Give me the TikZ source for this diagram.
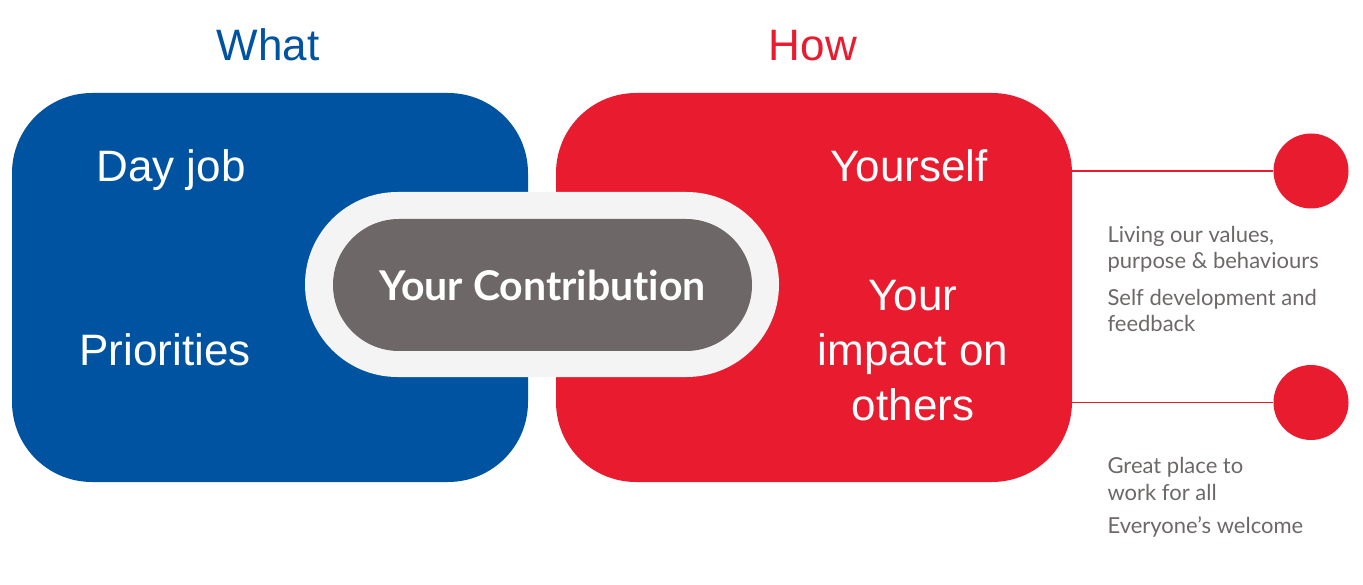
\documentclass[tikz,border=0pt]{standalone}
\usepackage{fontspec}
\setmainfont{Liberation Sans}
\newfontfamily\notefont[Ligatures={NoCommon,NoRare}]{Lato}
\usetikzlibrary{positioning}
\definecolor{whatblue}{HTML}{0053A0}
\definecolor{howred}{HTML}{E81C2E}
\definecolor{ringgray}{HTML}{F4F4F4}
\definecolor{coregray}{HTML}{6D6867}

\begin{document}
\begin{tikzpicture}[x=1pt,y=-1pt,
  head/.style={font=\fontsize{44}{50}\selectfont, anchor=base},
  panel/.style={rectangle, rounded corners=80pt, minimum width=516pt, minimum height=389pt, inner sep=0pt},
  boxtext/.style={font=\fontsize{44}{55}\selectfont, text=white, align=center, anchor=base},
  dot/.style={circle, fill=howred, minimum size=75pt, inner sep=0pt},
  note/.style={font=\notefont\fontsize{22}{26.5}\selectfont, text=coregray, align=left, anchor=base west},
  link/.style={draw=howred, line width=1.6pt}
]
\useasboundingbox (0,0) rectangle (1363,585);

% headings
\node[head, text=whatblue] (whathead) at (268,61) {What};
\node[head, text=howred] (howhead) at (813,61) {How};

% the two panels
\node[panel, fill=whatblue] (what) at (270,287.5) {};
\node[panel, fill=howred] (how) at (814,287.5) {};

% centre pill
\node[rectangle, fill=ringgray, minimum width=474pt, minimum height=185pt, rounded corners=92.5pt, inner sep=0pt] (ring) at (542,284.5) {};
\node[rectangle, fill=coregray, minimum width=419pt, minimum height=132pt, rounded corners=66pt, inner sep=0pt,
  text=white, font=\notefont\bfseries\fontsize{41}{44}\selectfont] (core) at (542.5,285) {Your Contribution};

\node[boxtext] (dayjob) at (171,182) {Day job};
\node[boxtext] (prio) at (165,366) {Priorities};
\node[boxtext] (self) at (909,182) {Yourself};
\node[boxtext] (impact) at (913,420) {Your\\impact on\\others};

% right hand side
\node[dot] (dot1) at (1311,171) {};
\node[dot] (dot2) at (1311,402.5) {};
\draw[link] (how.east |- dot1) -- (dot1.west);
\draw[link] (how.east |- dot2) -- (dot2.west);

\node[note] (values) at (1104,269) {Living our values,\\purpose \& behaviours};
\node[note] (develop) at (1104,332) {Self development and\\feedback};
\node[note] (place) at (1104,500) {Great place to\\work for all};
\node[note] (welcome) at (1104,533) {Everyone’s welcome};
\end{tikzpicture}
\end{document}
